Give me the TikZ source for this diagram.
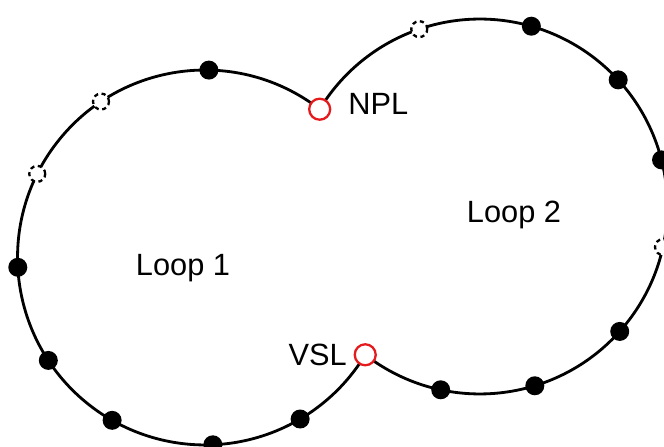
\documentclass[tikz,border=0pt]{standalone}
\usepackage{fontspec}
\setmainfont{Liberation Sans}
\usetikzlibrary{calc}
\pgfdeclarelayer{bg}
\pgfsetlayers{bg,main}
\definecolor{ringred}{RGB}{228,26,28}
\begin{document}
\begin{tikzpicture}[x=0.02cm,y=0.02cm,
  loopline/.style={line width=1.6pt,black},
  soliddot/.style={circle,fill=black,inner sep=0pt,minimum size=0.38cm},
  opendot/.style={circle,draw=black,fill=white,line width=1.3pt,dash pattern=on 2.4pt off 2pt,inner sep=0pt,minimum size=0.32cm},
  redring/.style={circle,draw=ringred,fill=white,line width=1.3pt,inner sep=0pt,minimum size=0.42cm},
  lbl/.style={inner sep=0pt,font=\fontsize{17.5}{20}\selectfont}]
\useasboundingbox (0,0) rectangle (664,447);
\coordinate (c1) at (205,189.5);
\coordinate (c2) at (480,240.5);
% junction points
\node[redring] (npl) at ($(c1)+(52.28:3.75cm)$) {};
\node[redring] (vsl) at ($(c1)+(-31.26:3.75cm)$) {};
% loops
\begin{pgfonlayer}{bg}
\draw[loopline] (npl.center) arc[start angle=52.28, end angle=328.74, radius=3.75cm];
\draw[loopline] (vsl.center) arc[start angle=-127.72, end angle=148.74, radius=3.75cm];
\end{pgfonlayer}
% loop 1 sites
\node[soliddot] (a1) at ($(c1)+(88.8:3.75cm)$) {};
\node[opendot]  (a2) at ($(c1)+(123.7:3.75cm)$) {};
\node[opendot]  (a3) at ($(c1)+(153.5:3.75cm)$) {};
\node[soliddot] (a4) at ($(c1)+(183.0:3.75cm)$) {};
\node[soliddot] (a5) at ($(c1)+(213.3:3.75cm)$) {};
\node[soliddot] (a6) at ($(c1)+(240.3:3.75cm)$) {};
\node[soliddot] (a7) at ($(c1)+(272.4:3.75cm)$) {};
\node[soliddot] (a8) at ($(c1)+(300.5:3.75cm)$) {};
% loop 2 sites
\node[opendot]  (b1) at ($(c2)+(108.9:3.75cm)$) {};
\node[soliddot] (b2) at ($(c2)+(74.1:3.75cm)$) {};
\node[soliddot] (b3) at ($(c2)+(42.5:3.75cm)$) {};
\node[soliddot] (b4) at ($(c2)+(14.4:3.75cm)$) {};
\node[opendot]  (b5) at ($(c2)+(-12.5:3.75cm)$) {};
\node[soliddot] (b6) at ($(c2)+(-41.8:3.75cm)$) {};
\node[soliddot] (b7) at ($(c2)+(-73.0:3.75cm)$) {};
\node[soliddot] (b8) at ($(c2)+(-102.1:3.75cm)$) {};
% labels
\node[lbl,anchor=base] (l1) at (183,171.5) {Loop 1};
\node[lbl,anchor=base] (l2) at (514,224.5) {Loop 2};
\node[lbl,anchor=base west] (npltext) at (348,332) {NPL};
\node[lbl,anchor=base east] (vsltext) at (347,81) {VSL};
\end{tikzpicture}
\end{document}
